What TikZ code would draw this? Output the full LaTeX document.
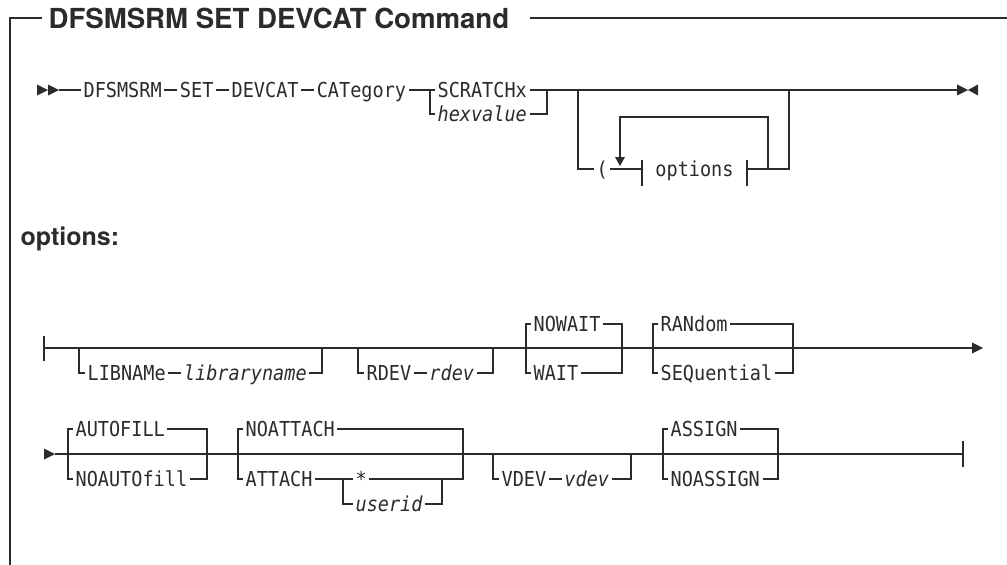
\documentclass[tikz,border=0pt]{standalone}
\usepackage{fontspec}
\setmainfont{TeX Gyre Heros}
\setmonofont{DejaVu Sans Mono}[FakeStretch=0.9]
\usetikzlibrary{positioning}
\definecolor{ink}{HTML}{2B2B2B}

\begin{document}
\begin{tikzpicture}[x=1pt,y=1pt,line width=1.2pt,color=ink]
\tikzstyle{every node}+=[inner sep=0pt]
\tikzstyle{kw}=[font=\ttfamily\fontsize{20.6}{24}\selectfont, text height=15pt, text depth=0pt, inner xsep=2pt, anchor=west]
\tikzstyle{var}=[kw, font=\ttfamily\itshape\fontsize{20.6}{24}\selectfont]
\tikzstyle{heading}=[font=\bfseries\fontsize{27.6}{30}\selectfont]
\useasboundingbox (0,0) rectangle (1007,-565);
% frame and title
\node [heading, anchor=west] (title) at (48,-18) {DFSMSRM SET DEVCAT Command};
\draw (42,-18) -- (10,-18) -- (10,-565);
\draw ([xshift=20pt]title.east) -- (1007,-18);
% main command line
\fill (37,-84.5) -- (48,-90) -- (37,-95.5) -- cycle;
\fill (48,-84.5) -- (59,-90) -- (48,-95.5) -- cycle;
\coordinate (mainstart) at (59,-90);
\coordinate (mainend) at (957,-90);
\node [kw] (dfsmsrm) at (81,-90) {DFSMSRM};
\node [kw, right=13pt of dfsmsrm] (set) {SET};
\node [kw, right=13pt of set] (devcat) {DEVCAT};
\node [kw, right=13pt of devcat] (category) {CATegory};
\node [kw] (scratch) at (435,-90) {SCRATCHx};
\node [var] (hexvalue) at (435,-114) {hexvalue};
\draw (mainstart) -- (dfsmsrm) -- (set) -- (devcat) -- (category) -- (scratch) -- (mainend);
\draw (430,-90) |- (hexvalue) -| (547,-90);
% options fragment with repeat loop
\node [kw] (paren) at (594,-169) {(};
\node [kw, anchor=center] (options) at (694.5,-169) {options};
\coordinate (optl) at (642,-169);
\coordinate (optr) at (747,-169);
\draw (578,-90) |- (paren) -- (optl);
\draw (optr) -| (789,-90);
\draw (642,-160) -- (642,-186);
\draw (747,-160) -- (747,-186);
\draw (768,-169) |- (620,-117) -- (620,-158);
\fill (615,-157) -- (625,-157) -- (620,-166) -- cycle;
\draw [line width=2pt] (795,-90) -- (815,-90);
\fill (957,-84.5) -- (968,-90) -- (957,-95.5) -- cycle;
\fill (978,-84.5) -- (968,-90) -- (978,-95.5) -- cycle;
% options heading
\node [heading, font=\bfseries\fontsize{25}{30}\selectfont, anchor=mid west] (optshead) at (20,-243) {options:};
% options, first row
\coordinate (rowastart) at (44,-348);
\coordinate (rowaend) at (972,-348);
\draw (44,-336) -- (44,-361);
\draw (rowastart) -- (rowaend);
\draw [line width=2pt] (50,-348) -- (58,-348);
\fill (972,-342.5) -- (983,-348) -- (972,-353.5) -- cycle;
\node [kw] (libname) at (85,-373) {LIBNAMe};
\node [var, right=13pt of libname] (libvar) {libraryname};
\draw (79,-348) |- (libname) -- (libvar) -| (322,-348);
\node [kw] (rdev) at (364,-373) {RDEV};
\node [var, right=13pt of rdev] (rdevvar) {rdev};
\draw (358,-348) |- (rdev) -- (rdevvar) -| (493,-348);
\node [kw] (nowait) at (531,-324) {NOWAIT};
\node [kw] (wait) at (531,-373) {WAIT};
\draw (526,-348) |- (nowait) -| (622,-348);
\draw (526,-348) |- (wait) -| (622,-348);
\node [kw] (random) at (658,-324) {RANdom};
\node [kw] (sequential) at (658,-373) {SEQuential};
\draw (653,-348) |- (random) -| (793,-348);
\draw (653,-348) |- (sequential) -| (793,-348);
% options, second row
\fill (44,-448.5) -- (55,-454) -- (44,-459.5) -- cycle;
\coordinate (rowbstart) at (55,-454);
\coordinate (rowbend) at (963,-454);
\draw (rowbstart) -- (rowbend);
\draw (963,-441) -- (963,-467);
\draw [line width=2pt] (783,-454) -- (803,-454);
\node [kw] (autofill) at (73,-429) {AUTOFILL};
\node [kw] (noautofill) at (73,-479) {NOAUTOfill};
\draw (68,-454) |- (autofill) -| (207,-454);
\draw (68,-454) |- (noautofill) -| (207,-454);
\node [kw] (noattach) at (243,-429) {NOATTACH};
\node [kw] (attach) at (243,-479) {ATTACH};
\node [kw] (star) at (353,-479) {*};
\node [var] (userid) at (353,-504) {userid};
\draw (238,-454) |- (noattach) -| (463,-454);
\draw (238,-454) |- (attach) -- (star) -| (463,-454);
\draw (343,-479) |- (userid) -| (442,-479);
\node [kw] (vdev) at (499,-479) {VDEV};
\node [var, right=13pt of vdev] (vdevvar) {vdev};
\draw (493,-454) |- (vdev) -- (vdevvar) -| (631,-454);
\node [kw] (assign) at (668,-429) {ASSIGN};
\node [kw] (noassign) at (668,-479) {NOASSIGN};
\draw (663,-454) |- (assign) -| (778,-454);
\draw (663,-454) |- (noassign) -| (778,-454);
\end{tikzpicture}
\end{document}
